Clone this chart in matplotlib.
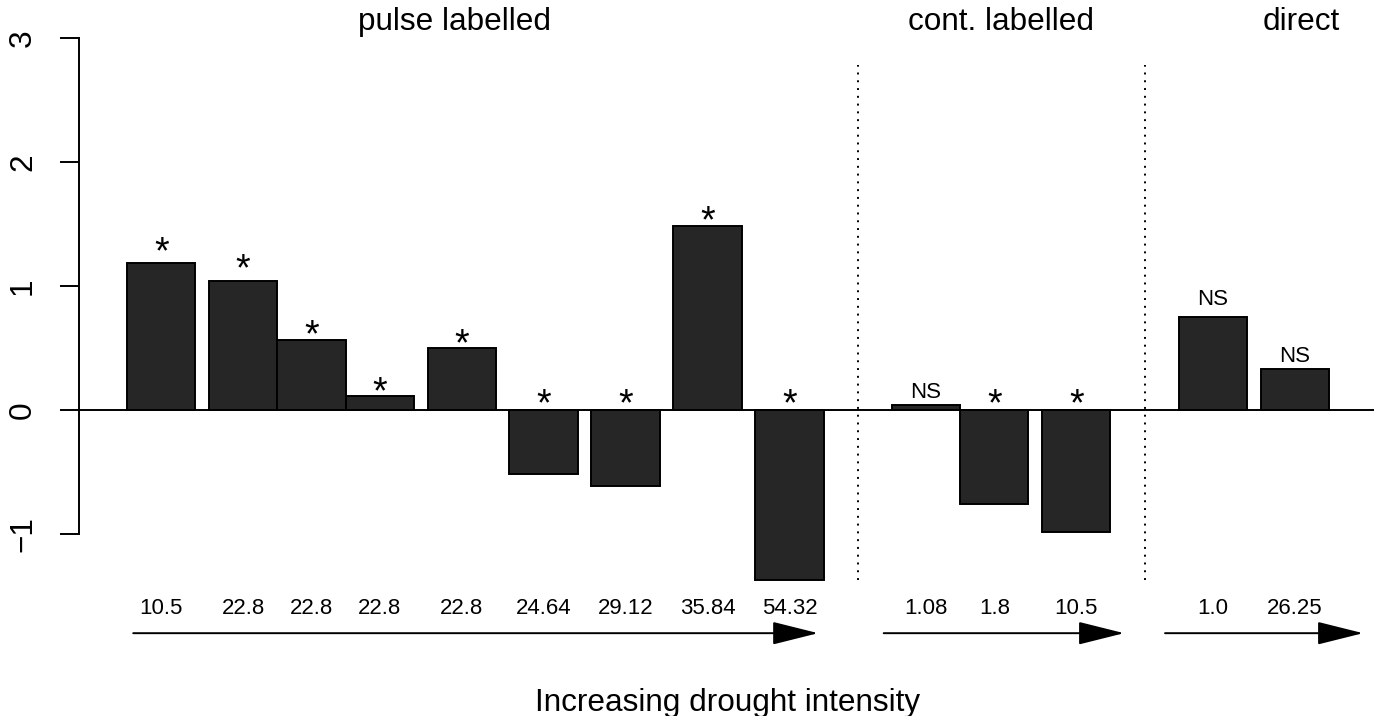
import numpy as np
import matplotlib
matplotlib.use('Agg')
import matplotlib.pyplot as plt

plt.rcParams['font.family'] = ['Liberation Sans', 'DejaVu Sans']

# bar heights (left to right)
values = [1.185, 1.04, 0.565, 0.11, 0.50, -0.52, -0.61, 1.48, -1.37,
          0.04, -0.76, -0.98,
          0.75, 0.33]
# space before each bar (R barplot style, in bar widths)
spaces = [0.2, 0.2, 0, 0, 0.2, 0.2, 0.2, 0.2, 0.2,
          1.0, 0, 0.2,
          1.0, 0.2]
intensity = ['10.5', '22.8', '22.8', '22.8', '22.8', '24.64', '29.12', '35.84', '54.32',
             '1.08', '1.8', '10.5',
             '1.0', '26.25']
sig = ['*'] * 9 + ['NS', '*', '*'] + ['NS', 'NS']
# height of the significance marks (centre of the mark)
sig_y = [1.36, 1.22, 0.69, 0.23, 0.62, 0.13, 0.13, 1.61, 0.13,
         0.16, 0.13, 0.13,
         0.91, 0.45]

groups = ['pulse labelled', 'cont. labelled', 'direct']
group_x = [5.0, 13.0, 17.4]
separators = [10.9, 15.1]
arrows = [(0.29, 10.32), (11.28, 14.8), (15.4, 18.3)]

lefts = np.cumsum(np.array(spaces) + np.r_[0, np.ones(len(values) - 1)])
centers = lefts + 0.5

fig = plt.figure(figsize=(13.74, 7.16), dpi=100)
ax = fig.add_axes([79 / 1374, (716 - 618.3) / 716, 1298 / 1374, 602.6 / 716])
ax.set_xlim(-0.504, 18.504)
ax.set_ylim(-1.68, 3.18)

ax.bar(lefts, values, width=1, align='edge', color='#262626',
       edgecolor='black', linewidth=1.4, zorder=2, clip_on=False)
ax.axhline(0, color='black', linewidth=1.4, zorder=3)

for s in separators:
    ax.vlines(s, -1.37, 2.78, colors='black', linewidth=1.4,
              linestyles=(0, (1, 3)))

for x, s, y in zip(centers, sig, sig_y):
    if s == '*':
        ax.annotate(s, (x, y), xytext=(0, -0.58 * 27), textcoords='offset points',
                    ha='center', va='baseline', fontsize=27)
    else:
        ax.annotate(s, (x, y), xytext=(0, -0.36 * 16), textcoords='offset points',
                    ha='center', va='baseline', fontsize=16)

for x, lab in zip(centers, intensity):
    ax.text(x, -1.6, lab, ha='center', va='center', fontsize=16, clip_on=False)

for x, g in zip(group_x, groups):
    ax.text(x, 3.13, g, ha='center', va='center', fontsize=22.7, clip_on=False)

for a, b in arrows:
    ax.annotate('', xy=(b, -1.8), xytext=(a, -1.8), annotation_clip=False,
                arrowprops=dict(arrowstyle='-|>,head_length=28.8,head_width=7.2',
                                mutation_scale=1, shrinkA=0, shrinkB=0,
                                color='black', linewidth=1.4))

ax.set_xlabel('Increasing drought intensity', fontsize=22.7, labelpad=50)

# R style y axis
for side in ['top', 'right', 'bottom']:
    ax.spines[side].set_visible(False)
ax.spines['left'].set_bounds(-1, 3)
ax.spines['left'].set_linewidth(1.4)
ax.set_xticks([])
ax.set_yticks([-1, 0, 1, 2, 3])
ax.set_yticklabels(['\u22121', '0', '1', '2', '3'], rotation=90, va='center', ha='center')
ax.tick_params(axis='y', length=13.7, width=1.4, pad=26.6, labelsize=22.7)

plt.savefig('out.png', dpi=100)
